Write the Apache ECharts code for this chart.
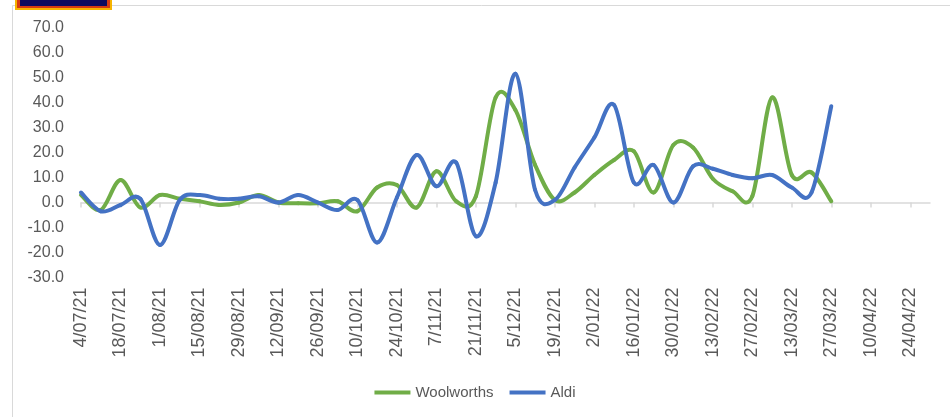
<!DOCTYPE html>
<html>
<head>
<meta charset="utf-8">
<script src="https://cdn.jsdelivr.net/npm/echarts@6/dist/echarts.min.js"></script>
<style>html,body{margin:0;padding:0;background:#fff;}#c{width:950px;height:417px;}</style>
</head>
<body>
<div id="c"></div>
<script>
// Weekly dates (x axis categories)
const weeks = ['4/07/21','11/07/21','18/07/21','25/07/21','1/08/21','8/08/21','15/08/21','22/08/21','29/08/21','5/09/21',
  '12/09/21','19/09/21','26/09/21','3/10/21','10/10/21','17/10/21','24/10/21','31/10/21','7/11/21','14/11/21',
  '21/11/21','28/11/21','5/12/21','12/12/21','19/12/21','26/12/21','2/01/22','9/01/22','16/01/22','23/01/22',
  '30/01/22','6/02/22','13/02/22','20/02/22','27/02/22','6/03/22','13/03/22','20/03/22','27/03/22','3/04/22',
  '10/04/22','17/04/22','24/04/22','1/05/22'];
const woolworths = [3,-3,9,-2,3,1.5,0.5,-1,0,3,
  0,-0.3,-0.3,0.5,-3.5,6,7,-2,12.5,0.5,
  2.5,42,37,15,1,4,11,17,20.5,4,
  23,22,9.5,4.5,2.5,42,11,12,0.5];
const aldi = [4,-3.5,-1,1.5,-17,1,3,1.5,1.5,2.5,
  0,3,0,-3,1,-16,2,19,6.5,16,
  -13.5,8,51.5,5,1,14,26,39,8,15,
  0,14.5,13.5,11,9.7,11,6,4,38.5];
const yMin = -30, yMax = 70, yStep = 10;

const chart = echarts.init(document.getElementById('c'));
const txt = '#595959';
const GREEN = '#70ad47', BLUE = '#4472c4';

// Excel-like smoothing: each item draws a Catmull-Rom bezier segment to the next point,
// positions come from the library's coordinate system (api.coord).
function makeRender(arr, color) {
  return function (params, api) {
    const i = api.value(0);
    if (i >= arr.length - 1) return;
    const n = arr.length;
    const p = k => { const j = Math.max(0, Math.min(n - 1, k)); return api.coord([j, arr[j]]); };
    const p0 = p(i - 1), p1 = p(i), p2 = p(i + 1), p3 = p(i + 2);
    const t = 1 / 6;
    return {
      type: 'bezierCurve',
      shape: {
        x1: p1[0], y1: p1[1], x2: p2[0], y2: p2[1],
        cpx1: p1[0] + (p2[0] - p0[0]) * t, cpy1: p1[1] + (p2[1] - p0[1]) * t,
        cpx2: p2[0] - (p3[0] - p1[0]) * t, cpy2: p2[1] - (p3[1] - p1[1]) * t
      },
      style: { stroke: color, lineWidth: 4, fill: 'none', lineCap: 'round' }
    };
  };
}

chart.setOption({
  animation: false,
  graphic: [
    {type:'rect', shape:{x:12.5,y:5.5,width:1000,height:1000}, style:{fill:'none', stroke:'#d9d9d9', lineWidth:1}, z:-1},
    {type:'rect', shape:{x:15,y:-5,width:97,height:15}, style:{fill:'#f6b400'}},
    {type:'rect', shape:{x:17,y:-5,width:93,height:13}, style:{fill:'#d63a10'}},
    {type:'rect', shape:{x:20,y:-5,width:87,height:11}, style:{fill:'#0d0a5e'}}
  ],
  grid: {left:81, right:20, top:27.5, bottom:139.5, containLabel:false},
  legend: {
    top: 380, left: 'center',
    itemWidth: 36, itemHeight: 4, itemGap: 16,
    icon: 'rect',
    textStyle: {color: txt, fontSize: 15, fontFamily: 'Liberation Sans'},
    data: ['Woolworths','Aldi']
  },
  xAxis: [
    {type:'category', data: weeks, boundaryGap:false,
     axisLine:{show:true, onZero:true, lineStyle:{color:'#d9d9d9', width:1.5}},
     axisTick:{show:true, interval:1, length:5, lineStyle:{color:'#d9d9d9', width:1.5}},
     axisLabel:{show:false}, splitLine:{show:false}},
    {type:'category', data: weeks, boundaryGap:false, position:'bottom',
     axisLine:{show:false, onZero:false}, axisTick:{show:false},
     axisLabel:{show:true, interval:1, rotate:90, margin:10, color:txt, fontSize:18, fontFamily:'Liberation Sans'},
     splitLine:{show:false}}
  ],
  yAxis: {type:'value', min:yMin, max:yMax, interval:yStep,
    axisLine:{show:false}, axisTick:{show:false}, splitLine:{show:false},
    axisLabel:{margin:17, color:txt, fontSize:16, fontFamily:'Liberation Sans', formatter: v => v.toFixed(1)}},
  series: [
    {name:'Woolworths', type:'custom', xAxisIndex:0, data: woolworths.map((v,i)=>[i,v]),
     encode:{x:0, y:1}, renderItem: makeRender(woolworths, GREEN), itemStyle:{color:GREEN}, clip:false},
    {name:'Aldi', type:'custom', xAxisIndex:0, data: aldi.map((v,i)=>[i,v]),
     encode:{x:0, y:1}, renderItem: makeRender(aldi, BLUE), itemStyle:{color:BLUE}, clip:false}
  ]
});
</script>
</body>
</html>
